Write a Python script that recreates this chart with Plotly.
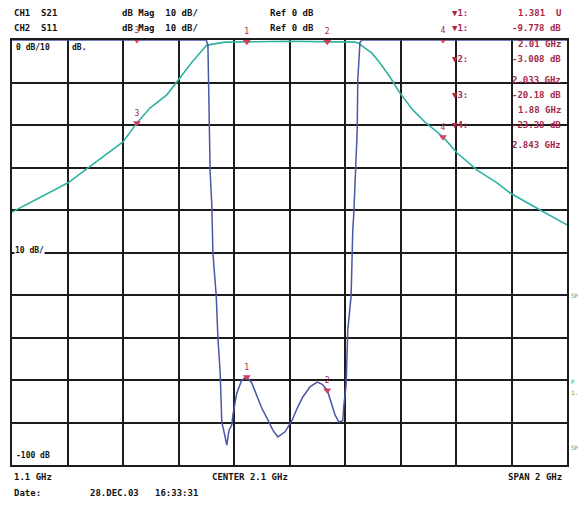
import numpy as np
import plotly.graph_objects as go

# ---- data (GHz / dB) ----
cyan_freq = [1.100, 1.302, 1.374, 1.500, 1.550, 1.597, 1.658, 1.698, 1.749, 1.802, 1.868,
             2.100, 2.336, 2.347, 2.397, 2.426, 2.462, 2.498, 2.545, 2.588, 2.653, 2.704,
             2.776, 2.848, 2.895, 3.003, 3.100]
cyan_db = [-40.5, -33.6, -30.1, -24.0, -19.5, -16.0, -12.9, -9.4, -5.2, -1.2, -0.5,
           -0.3, -0.5, -0.7, -3.1, -5.4, -8.7, -12.5, -16.5, -19.3, -22.8, -26.6,
           -30.6, -33.6, -36.0, -40.0, -43.5]

blue_freq = [1.100, 1.770, 1.800, 1.806, 1.810, 1.814, 1.820, 1.824, 1.836, 1.842, 1.850,
             1.856, 1.868, 1.874, 1.882, 1.892, 1.896, 1.910, 1.928, 1.946, 1.964, 1.982,
             2.000, 2.022, 2.040, 2.058, 2.084, 2.110, 2.128, 2.148, 2.174, 2.200, 2.218,
             2.236, 2.250, 2.264, 2.278, 2.292, 2.296, 2.304, 2.310, 2.322, 2.328, 2.332,
             2.344, 2.346, 2.354, 2.362, 3.100]
blue_db = [0.0, 0.0, 0.0, -1.2, -14.0, -31.0, -38.8, -50.1, -60.2, -70.1, -78.1,
           -89.9, -93.4, -95.3, -91.8, -90.6, -88.2, -83.1, -80.0, -79.3, -80.7, -83.5,
           -86.6, -89.4, -91.8, -93.4, -92.2, -89.4, -86.6, -84.0, -81.6, -80.5, -81.0,
           -82.4, -85.2, -88.2, -89.9, -89.6, -85.9, -81.2, -68.2, -60.2, -44.7, -40.5,
           -21.2, -9.4, -0.5, 0.0, 0.0]

marker_freq = [1.946, 2.236, 1.550, 2.653]
marker_labels = ["1", "2", "3", "4"]

header_row1 = ["CH1  S21", "dB Mag  10 dB/", "Ref 0 dB"]
header_row2 = ["CH2  S11", "dB Mag  10 dB/", "Ref 0 dB"]
readout_names = ["\u25BC1:", "\u25BC1:", "", "\u25BC2:", "", "\u25BC3:", "", "\u25BC4:", ""]
readout_vals = ["1.381  U", "-9.778 dB", "2.01 GHz", "-3.008 dB", "2.033 GHz",
                "-20.18 dB", "1.88 GHz", "-23.38 dB", "2.843 GHz"]
footer = ["1.1 GHz", "CENTER 2.1 GHz", "SPAN 2 GHz"]
date_text = ["Date:", "28.DEC.03   16:33:31"]

CYAN = "#2fb1a3"
BLUE = "#4a56a6"
RED = "#a52848"
FONT = "DejaVu Sans Mono"

# page offset of the plotly div (browser default body margin)
OFF = 8
W, H = 586 - OFF, 508 - OFF
# plot area in page pixels: x 12..567, y 40..465
L, R, T, B = 12, 567, 40, 465


def px(x):
    return (x - L) / (R - L)


def py(y):
    return (B - y) / (B - T)


fig = go.Figure()

fig.add_trace(go.Scatter(x=cyan_freq, y=cyan_db, mode="lines",
                         line=dict(color=CYAN, width=1.6), cliponaxis=False,
                         hoverinfo="skip"))
fig.add_trace(go.Scatter(x=blue_freq, y=blue_db, mode="lines",
                         line=dict(color=BLUE, width=1.5), cliponaxis=False,
                         hoverinfo="skip"))

# markers on both traces
m_cyan_y = list(np.interp(marker_freq, cyan_freq, cyan_db))
m_blue_y = list(np.interp(marker_freq, blue_freq, blue_db))
for ys in (m_cyan_y, m_blue_y):
    fig.add_trace(go.Scatter(x=marker_freq, y=ys, mode="markers+text",
                             text=marker_labels, textposition="top center",
                             textfont=dict(family=FONT, size=8, color=RED),
                             marker=dict(symbol="triangle-down", size=7, color="#d0405e"),
                             cliponaxis=False, hoverinfo="skip"))

shapes = [dict(type="rect", xref="paper", yref="paper", x0=px(448), x1=1.0,
               y0=py(152), y1=1.0, fillcolor="white", line=dict(width=0),
               layer="between")]

ann = []


def text(x, y, s, color="#111", size=9, anchor="left", bg=None):
    d = dict(x=px(x), y=py(y), xref="paper", yref="paper", text=s, showarrow=False,
             xanchor=anchor, yanchor="middle",
             font=dict(family=FONT, size=size, color=color))
    if bg:
        d["bgcolor"] = bg
        d["borderpad"] = 0
    ann.append(d)


# header
for row, yy in ((header_row1, 13), (header_row2, 28)):
    text(12, yy, "<b>" + row[0] + "</b>")
    text(120, yy, "<b>" + row[1] + "</b>")
    text(268, yy, "<b>" + row[2] + "</b>")

# marker readout block
ys_read = [13, 28, 44, 59, 80, 95, 110, 125, 145]
for name, val, yy in zip(readout_names, readout_vals, ys_read):
    if name:
        text(450, yy, "<b>" + name + "</b>", color=RED)
    text(563, yy, "<b>" + val + "</b>", color=RED, anchor="right")

# grid labels
text(15, 47, "<b>0 dB/10</b>", size=8, bg="white")
text(71, 47, "<b>dB.</b>", size=8, bg="white")
text(14, 250, "<b>10 dB/</b>", size=8, bg="white")
text(15, 455, "<b>-100 dB</b>", size=8, bg="white")

# footer
text(12, 477, "<b>" + footer[0] + "</b>")
text(210, 477, "<b>" + footer[1] + "</b>")
text(564, 477, "<b>" + footer[2] + "</b>", anchor="right")
text(12, 493, "<b>" + date_text[0] + "</b>")
text(88, 493, "<b>" + date_text[1] + "</b>")

# right side small green labels (partly outside the page in the reference)
for s, yy in (("SP", 295), ("P", 381), ("1.0", 392), ("SP", 447)):
    text(569, yy, s, color="#3aa84a", size=6)

fig.update_layout(
    width=W, height=H,
    margin=dict(l=L - OFF, r=W - (R - OFF), t=T - OFF, b=H - (B - OFF)),
    paper_bgcolor="white", plot_bgcolor="white",
    showlegend=False,
    shapes=shapes, annotations=ann,
    xaxis=dict(range=[1.1, 3.1], tick0=1.1, dtick=0.2, showgrid=True,
               gridcolor="#1c1c1c", gridwidth=2, showticklabels=False,
               ticks="", zeroline=False, showline=True, linecolor="#1c1c1c",
               linewidth=2, mirror=True, fixedrange=True),
    yaxis=dict(range=[-100, 0], tick0=0, dtick=10, showgrid=True,
               gridcolor="#1c1c1c", gridwidth=2, showticklabels=False,
               ticks="", zeroline=False, showline=True, linecolor="#1c1c1c",
               linewidth=2, mirror=True, fixedrange=True),
)

fig.write_html("out.html")
